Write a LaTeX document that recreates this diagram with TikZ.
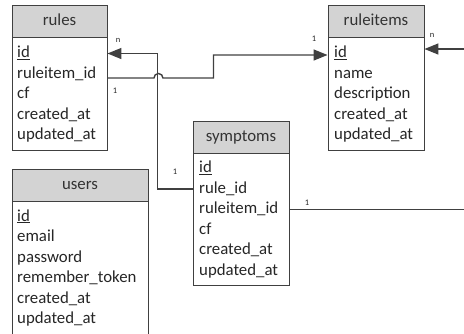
\documentclass[tikz,border=0pt]{standalone}
\usepackage{fontspec}
\setmainfont{Carlito}
\usetikzlibrary{arrows.meta,positioning}
\definecolor{boxline}{HTML}{404040}
\definecolor{headfill}{HTML}{D3D3D3}
\definecolor{linkgray}{HTML}{404040}
\begin{document}
\begin{tikzpicture}[x=1pt,y=-1pt,
  tablehead/.style={draw=boxline, fill=headfill, line width=0.9pt, minimum height=32pt, inner sep=0pt, text height=11pt, text depth=3pt, font=\fontsize{16.8}{20}\selectfont, text=black!80},
  tablebody/.style={draw=boxline, fill=white, line width=0.9pt, inner sep=0pt, below=0pt of #1},
  row/.style={anchor=west, inner sep=0pt, text height=11pt, text depth=3pt, font=\fontsize{16.8}{20}\selectfont, text=black!85},
  card/.style={inner sep=0pt, font=\fontsize{8.5}{10}\selectfont, text=black!85},
  link/.style={draw=linkgray, line width=1.4pt},
  arrowlink/.style={link, -{Triangle[length=14pt,width=11pt]}}]
\useasboundingbox (0,0) rectangle (464,333);
\clip (0,0) rectangle (464,333);
\node[tablehead, minimum width=95pt] (rules) at (59.5,21) {rules};
\node[tablebody=rules, minimum width=95pt, minimum height=113pt] (rules-body) {};
\node[row] (rules-id) at (17,53.5) {\underline{id}};
\node[row] (rules-rid) at (17,74) {ruleitem\_id};
\node[row] (rules-cf) at (17,94.5) {cf};
\node[row] (rules-created) at (17,115) {created\_at};
\node[row] (rules-updated) at (17,135.5) {updated\_at};
\node[tablehead, minimum width=96pt] (ruleitems) at (376,21) {ruleitems};
\node[tablebody=ruleitems, minimum width=96pt, minimum height=113pt] (ruleitems-body) {};
\node[row] (ruleitems-id) at (334,53.5) {\underline{id}};
\node[row] (ruleitems-name) at (334,74) {name};
\node[row] (ruleitems-desc) at (334,94.5) {description};
\node[row] (ruleitems-created) at (334,115) {created\_at};
\node[row] (ruleitems-updated) at (334,135.5) {updated\_at};
\node[tablehead, minimum width=96pt] (symptoms) at (241,137) {symptoms};
\node[tablebody=symptoms, minimum width=96pt, minimum height=132pt] (symptoms-body) {};
\node[row] (symptoms-id) at (199,168.5) {\underline{id}};
\node[row] (symptoms-rule) at (199,189) {rule\_id};
\node[row] (symptoms-rid) at (199,209.5) {ruleitem\_id};
\node[row] (symptoms-cf) at (199,230) {cf};
\node[row] (symptoms-created) at (199,250.5) {created\_at};
\node[row] (symptoms-updated) at (199,271) {updated\_at};
\node[tablehead, minimum width=136pt] (users) at (80,185) {users};
\node[tablebody=users, minimum width=136pt, minimum height=150pt] (users-body) {};
\node[row] (users-id) at (17,217) {\underline{id}};
\node[row] (users-email) at (17,237.5) {email};
\node[row] (users-password) at (17,258) {password};
\node[row] (users-token) at (17,278.5) {remember\_token};
\node[row] (users-created) at (17,299) {created\_at};
\node[row] (users-updated) at (17,319.5) {updated\_at};
\draw[arrowlink] (symptoms-rule.west -| symptoms-body.west) -- ++(-35,0) |- (rules-id.west -| rules-body.east);
\draw[arrowlink] ([yshift=-4pt]rules-rid.west -| rules-body.east) -- ++(46.5,0) arc[start angle=180, end angle=0, radius=4.5pt] -- ++(50.5,0) |- ([yshift=-1.5pt]ruleitems-id.west -| ruleitems-body.west);
\draw[arrowlink] (symptoms-rid.west -| symptoms-body.east) -- ++(200,0) |- ([yshift=4.5pt]ruleitems-id.west -| ruleitems-body.east);
\node[card] (rules-n) at (118,40) {n};
\node[card] (rules-one) at (115,91) {1};
\node[card] (ruleitems-one) at (314,39) {1};
\node[card] (ruleitems-n) at (432,35) {n};
\node[card] (symptoms-one-left) at (175,172) {1};
\node[card] (symptoms-one-right) at (307,203) {1};
\end{tikzpicture}
\end{document}
